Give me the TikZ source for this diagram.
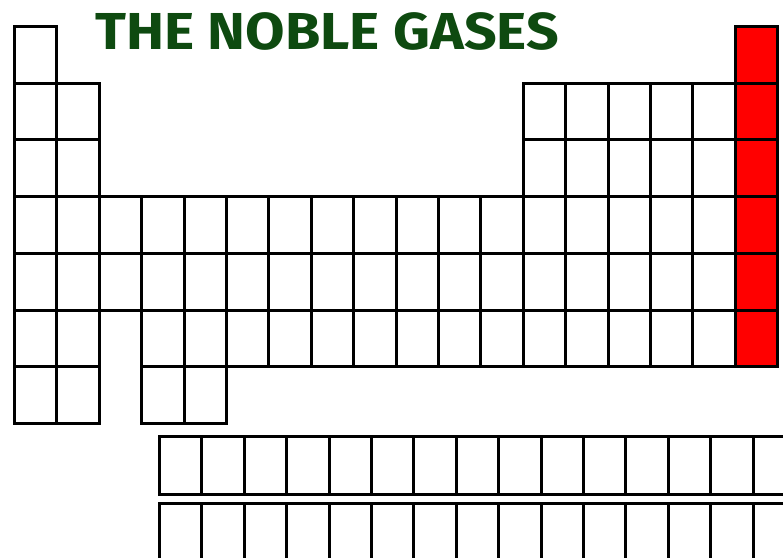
\documentclass[tikz,border=0pt]{standalone}
\usepackage{fontspec}
\setsansfont{Fira Sans}
\usetikzlibrary{positioning}
\definecolor{titlegreen}{RGB}{14,74,16}
\definecolor{gasred}{RGB}{255,0,0}
\tikzset{
  cell/.style={draw=black, line width=3pt, fill=white, minimum width=42.4pt,
    minimum height=56.7pt, inner sep=0pt, anchor=north west},
  gascell/.style={cell, fill=gasred},
  fcell/.style={cell, minimum height=58pt}
}
\begin{document}
\begin{tikzpicture}[x=1pt,y=-1pt]
\clip (0,0) rectangle (783,557);
\fill[white] (0,0) rectangle (783,557);
% Title
\node[font=\sffamily\bfseries\fontsize{52}{56}\selectfont, text=titlegreen,
  anchor=west, inner sep=0pt, xscale=1.1] (title) at (95,31) {THE NOBLE GASES};
% main block: row / columns present
\foreach \r/\cols in {1/{1}, 2/{1,2,13,14,...,17}, 3/{1,2,13,14,...,17}, 4/{1,...,17},
    5/{1,...,17}, 6/{1,2,4,5,...,17}, 7/{1,2,4,5}} {
  \foreach \c in \cols {
    \node[cell] (e\r-\c) at ({13+42.4*(\c-1)},{25+56.7*(\r-1)}) {};
  }
}
% noble gases
\foreach \r in {1,...,6} {
  \node[gascell] (g\r) at ({13+42.4*17},{25+56.7*(\r-1)}) {};
}
% lanthanides and actinides
\foreach \c in {1,...,15} {
  \node[fcell] (la\c) at ({158+42.4*(\c-1)},435) {};
  \node[fcell] (ac\c) at ({158+42.4*(\c-1)},502) {};
}
\end{tikzpicture}
\end{document}
